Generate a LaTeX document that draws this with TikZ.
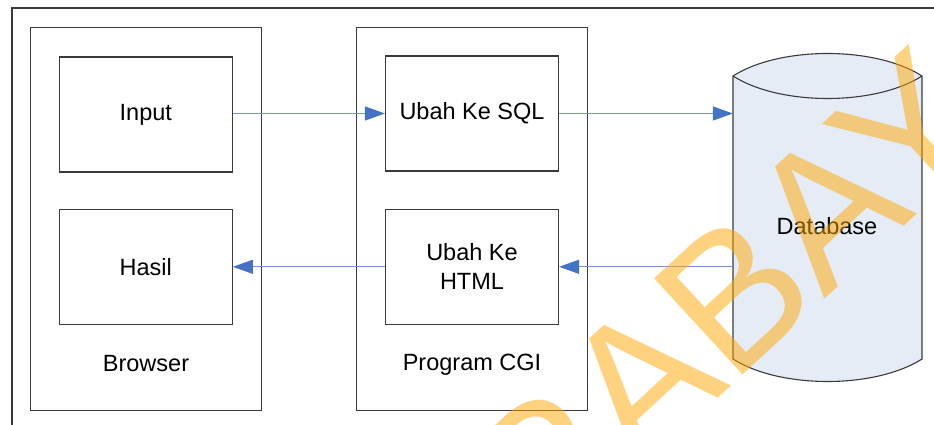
\documentclass[tikz,border=0pt]{standalone}
\usepackage{fontspec}
\setmainfont{Liberation Sans}
\usetikzlibrary{arrows.meta}

\definecolor{linegray}{HTML}{3A3A3A}
\definecolor{flowline}{HTML}{7895CC}
\definecolor{flowtip}{HTML}{4472C4}
\definecolor{dbfill}{HTML}{E6ECF6}
\definecolor{stamp}{HTML}{FFA500}

\tikzset{
  container/.style={draw=linegray, line width=1.2pt, minimum width=230.5pt,
    minimum height=383pt, inner sep=0pt},
  procbox/.style={draw=linegray, line width=1.2pt, minimum width=173pt,
    minimum height=115pt, inner sep=0pt, align=center,
    font=\fontsize{23.5}{29}\selectfont},
  caption/.style={inner sep=0pt, font=\fontsize{23.5}{29}\selectfont},
  flow/.style={draw=flowline, line width=1.3pt,
    -{Triangle[length=20pt,width=14pt,color=flowtip]}},
}

\begin{document}
\begin{tikzpicture}[x=1pt,y=-1pt]
\useasboundingbox (0,0) rectangle (934,425);

% page frame, cut by the right and bottom edges
\draw[linegray, line width=1.2pt] (940,8) -- (12,8) -- (12,430);

% browser side
\node[container] (browser) at (145.9,218.9) {};
\node[procbox] (input) at (145.8,114.5) {Input};
\node[procbox] (hasil) at (145.8,266.8) {Hasil};
\node[caption] (browsertxt) at (146,363.5) {Browser};

% CGI program
\node[container] (cgi) at (472,218.7) {};
\node[procbox] (sql) at (472,113.5) {Ubah Ke SQL};
\node[procbox] (html) at (472,266.8) {Ubah Ke\\HTML};
\node[caption] (cgitxt) at (472,364.5) {Program CGI};

% database drum
\filldraw[draw=linegray, fill=dbfill, line width=1.1pt]
  (733,76) -- (733,359) .. controls (780,389) and (875,389) .. (922,359)
  -- (922,76) .. controls (875,46) and (780,46) .. (733,76) -- cycle;
\draw[linegray, line width=1.1pt]
  (733,76) .. controls (780,106) and (875,106) .. (922,76);
\node[inner sep=0pt, minimum width=189pt, minimum height=283pt] (db) at (827.5,217.5) {};
\node[caption] (dbtxt) at (827,226) {Database};

% data flow
\draw[flow] (input.east |- sql.west) -- (sql.west);
\draw[flow] (sql.east) -- (sql.east -| db.west);
\draw[flow] (html.east -| db.west) -- (html.east);
\draw[flow] (html.west) -- (hasil.east);

% watermark stamp
\node[anchor=base west, inner sep=0pt, rotate=42.6, text=stamp, text opacity=0.5,
  font=\fontsize{190}{190}\selectfont] (stampmark) at (343,743) {SURABAYA};
\end{tikzpicture}
\end{document}
